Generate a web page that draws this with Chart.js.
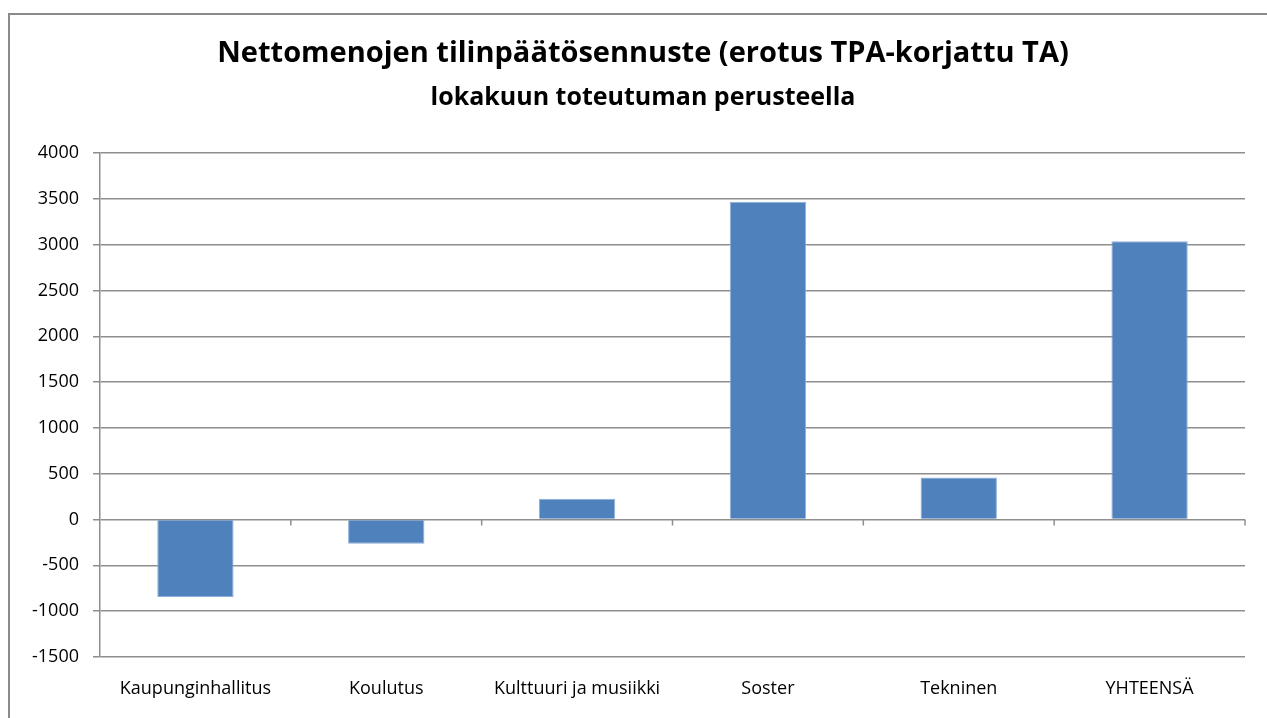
<!DOCTYPE html>
<html>
<head>
<meta charset="utf-8">
<script src="https://cdn.jsdelivr.net/npm/chart.js@4"></script>
<style>
  html, body { margin: 0; padding: 0; background: #fff; }
  #wrap { width: 1267px; height: 718px; position: relative; }
</style>
</head>
<body>
<div id="wrap"><canvas id="chart"></canvas></div>
<script>
const categories = ['Kaupunginhallitus', 'Koulutus', 'Kulttuuri ja musiikki', 'Soster', 'Tekninen', 'YHTEENSÄ'];
const values = [-846, -263, 227, 3467, 460, 3036];
const yTicks = [4000, 3500, 3000, 2500, 2000, 1500, 1000, 500, 0, -500, -1000, -1500];
const titleText = 'Nettomenojen tilinpäätösennuste (erotus TPA-korjattu TA)';
const subtitleText = 'lokakuun toteutuman perusteella';

const gridColor = '#8e8e8e';
const fontFamily = '"Open Sans", sans-serif';

// frame, the two title lines (centred on the frame, not the canvas) and
// the small tick marks under the zero line
const excelBits = {
    id: 'excelBits',
    beforeDraw(chart) {
        const ctx = chart.ctx;
        ctx.save();
        ctx.strokeStyle = '#8a8a8a';
        ctx.lineWidth = 2;
        ctx.strokeRect(9, 14, 1300, 760);

        const cx = 643;
        ctx.fillStyle = '#000';
        ctx.textAlign = 'center';
        ctx.textBaseline = 'middle';
        ctx.font = 'bold 29px ' + fontFamily;
        ctx.fillText(titleText, cx, 54);
        ctx.font = 'bold 25px ' + fontFamily;
        ctx.fillText(subtitleText, cx, 98);
        ctx.restore();
    },
    afterDatasetsDraw(chart) {
        const ctx = chart.ctx;
        const x = chart.scales.x, y = chart.scales.y;
        const y0 = y.getPixelForValue(0);
        const half = (x.getPixelForValue(1) - x.getPixelForValue(0)) / 2;
        ctx.save();
        ctx.strokeStyle = gridColor;
        ctx.lineWidth = 1.5;
        ctx.beginPath();
        for (let i = 0; i < categories.length; i++) {
            const bx = x.getPixelForValue(i) + half;
            ctx.moveTo(bx, y0);
            ctx.lineTo(bx, y0 + 6);
        }
        ctx.stroke();
        ctx.restore();
    }
};

new Chart(document.getElementById('chart'), {
    type: 'bar',
    data: {
        labels: categories,
        datasets: [{
            data: values,
            backgroundColor: '#4f81bd',
            borderColor: '#8fb0d8',
            borderWidth: 1,
            categoryPercentage: 1,
            barPercentage: 0.4
        }]
    },
    options: {
        responsive: true,
        maintainAspectRatio: false,
        animation: false,
        layout: { padding: { top: 153, right: 22, bottom: 0, left: 0 } },
        plugins: {
            legend: { display: false },
            tooltip: { enabled: false },
            title: { display: false }
        },
        scales: {
            x: {
                grid: { display: false, drawTicks: false },
                border: { display: false },
                ticks: { color: '#000', font: { family: fontFamily, size: 18 }, padding: 21, maxRotation: 0 },
                afterFit(scale) { scale.height = 61; }
            },
            y: {
                min: -1500,
                max: 4000,
                afterBuildTicks(scale) { scale.ticks = yTicks.map(v => ({ value: v })); },
                grid: { color: gridColor, lineWidth: 1.5, tickLength: 7 },
                border: { display: true, color: gridColor, width: 1.5 },
                ticks: {
                    color: '#000',
                    font: { family: fontFamily, size: 18 },
                    padding: 14,
                    callback: v => String(v)
                },
                afterFit(scale) { scale.width = 100; }
            }
        }
    },
    plugins: [excelBits]
});
</script>
</body>
</html>
